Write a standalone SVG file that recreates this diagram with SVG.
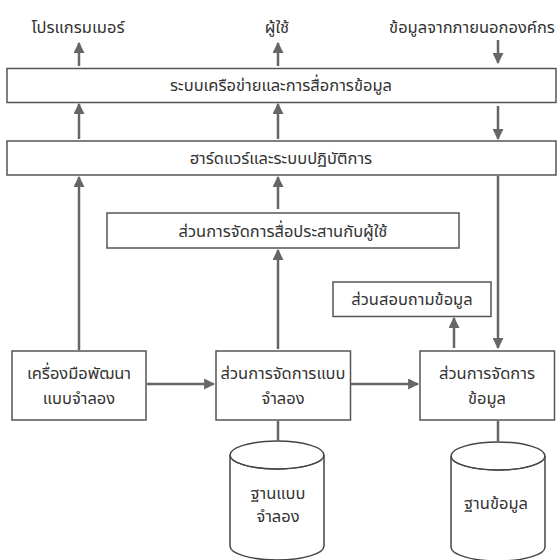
<svg xmlns="http://www.w3.org/2000/svg" width="558" height="560" viewBox="0 0 558 560">
  <defs>
    <marker id="arrow" markerUnits="userSpaceOnUse" markerWidth="11" markerHeight="11" viewBox="0 0 10 10" refX="9" refY="5" orient="auto">
      <path d="M0,0 L10,5 L0,10 Z" fill="#666"/>
    </marker>
  </defs>
  <style>
    .box { fill: #fff; stroke: #555; stroke-width: 1.5; }
    .cyl { fill: #fff; stroke: #444; stroke-width: 1.5; }
    .conn { stroke: #666; stroke-width: 2.5; fill: none; }
    .arr { marker-end: url(#arrow); }
    text { font-family: "Noto Sans Thai", "Noto Sans", "Liberation Sans", sans-serif; font-size: 16.5px; fill: #333; text-anchor: middle; dominant-baseline: central; }
  </style>
  <rect width="558" height="560" fill="#fff"/>

  <!-- external actors -->
  <g id="programmer"><text x="78" y="27">โปรแกรมเมอร์</text></g>
  <g id="user"><text x="277" y="27">ผู้ใช้</text></g>
  <g id="external-data"><text x="472" y="27">ข้อมูลจากภายนอกองค์กร</text></g>

  <!-- layers -->
  <g id="network">
    <rect class="box" x="7" y="68.5" width="549" height="34"/>
    <text x="281" y="85.5">ระบบเครือข่ายและการสื่อการข้อมูล</text>
  </g>
  <g id="hardware-os">
    <rect class="box" x="7" y="141" width="549" height="34"/>
    <text x="281" y="158">ฮาร์ดแวร์และระบบปฏิบัติการ</text>
  </g>
  <g id="ui-manager">
    <rect class="box" x="107" y="213" width="352" height="35"/>
    <text x="283" y="231">ส่วนการจัดการสื่อประสานกับผู้ใช้</text>
  </g>
  <g id="query">
    <rect class="box" x="333" y="282" width="158" height="34.5"/>
    <text x="412" y="299.5">ส่วนสอบถามข้อมูล</text>
  </g>

  <!-- bottom row -->
  <g id="dev-tools">
    <rect class="box" x="12" y="351" width="134" height="69"/>
    <text x="79" y="373">เครื่องมือพัฒนา</text>
    <text x="79" y="398">แบบจำลอง</text>
  </g>
  <g id="model-manager">
    <rect class="box" x="216" y="351" width="134.5" height="69"/>
    <text x="283" y="373">ส่วนการจัดการแบบ</text>
    <text x="283" y="398">จำลอง</text>
  </g>
  <g id="data-manager">
    <rect class="box" x="420" y="351" width="134.5" height="69"/>
    <text x="487" y="373">ส่วนการจัดการ</text>
    <text x="487" y="398">ข้อมูล</text>
  </g>

  <!-- storage -->
  <g id="model-base">
    <path class="cyl" d="M230,455 L230,546 A47,14 0 0 0 324,546 L324,455"/>
    <ellipse class="cyl" cx="277" cy="455" rx="47" ry="14"/>
    <path d="M231,458 A47,14 0 0 0 323,458" fill="none" stroke="#444" stroke-width="1.2"/>
    <text x="278" y="493">ฐานแบบ</text>
    <text x="278" y="516">จำลอง</text>
  </g>
  <g id="database">
    <path class="cyl" d="M451,456 L451,547 A47,14 0 0 0 545,547 L545,456"/>
    <ellipse class="cyl" cx="498" cy="456" rx="47" ry="14"/>
    <path d="M452,459 A47,14 0 0 0 544,459" fill="none" stroke="#444" stroke-width="1.2"/>
    <text x="496" y="503">ฐานข้อมูล</text>
  </g>

  <!-- connectors -->
  <g id="connectors">
    <line class="conn arr" x1="79" y1="66" x2="79" y2="43"/>
    <line class="conn arr" x1="278" y1="66" x2="278" y2="43"/>
    <line class="conn arr" x1="498" y1="40" x2="498" y2="63"/>
    <line class="conn arr" x1="79" y1="139" x2="79" y2="104"/>
    <line class="conn arr" x1="278" y1="139" x2="278" y2="104"/>
    <line class="conn arr" x1="498" y1="106" x2="498" y2="139"/>
    <line class="conn arr" x1="79" y1="350" x2="79" y2="177"/>
    <line class="conn arr" x1="278" y1="209" x2="278" y2="177"/>
    <line class="conn arr" x1="278" y1="349" x2="278" y2="250"/>
    <line class="conn arr" x1="454" y1="348" x2="454" y2="318"/>
    <line class="conn arr" x1="498" y1="176" x2="498" y2="348"/>
    <line class="conn arr" x1="147" y1="384" x2="214" y2="384"/>
    <line class="conn arr" x1="351" y1="384" x2="418" y2="384"/>
    <line class="conn" x1="278" y1="421" x2="278" y2="441"/>
    <line class="conn" x1="498" y1="421" x2="498" y2="442"/>
  </g>
</svg>
